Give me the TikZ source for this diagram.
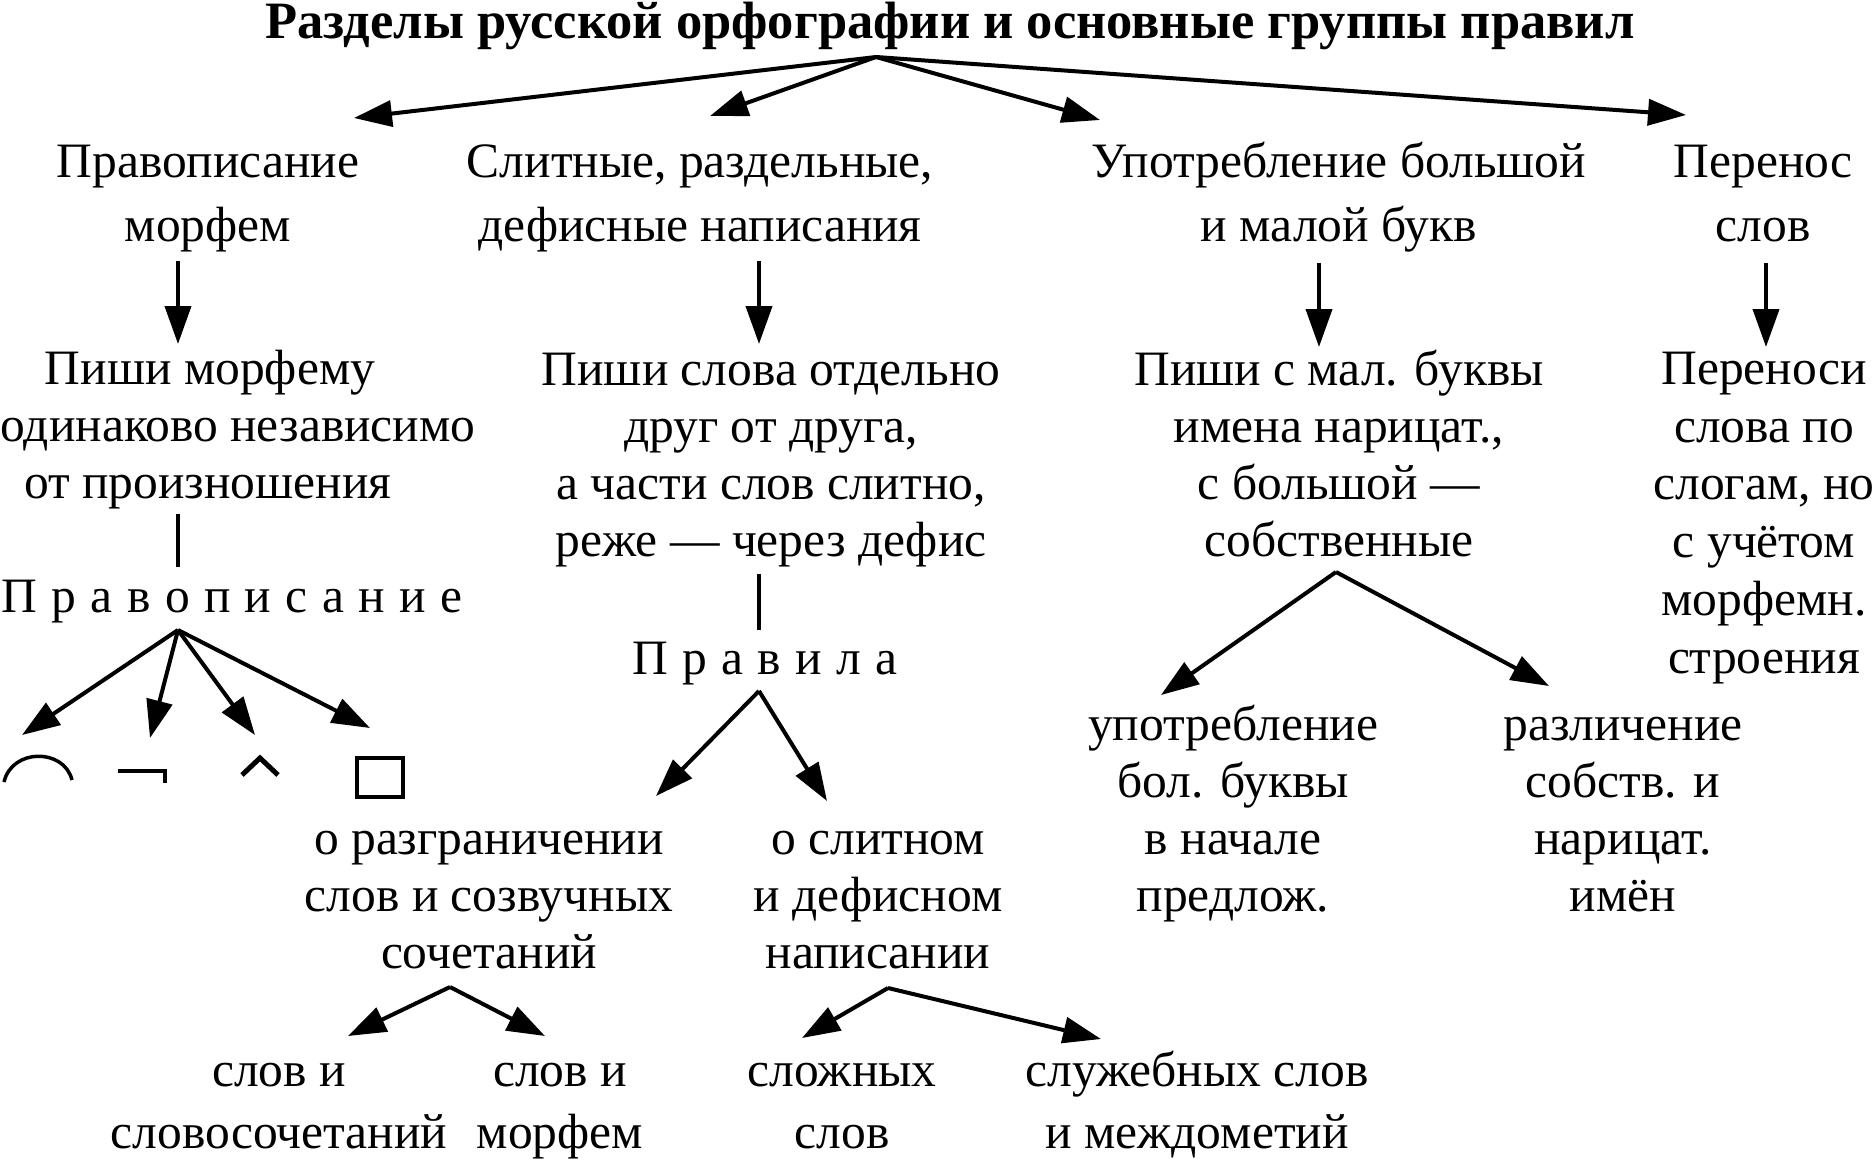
\documentclass[tikz,border=0pt]{standalone}
\usepackage{fontspec}
\setmainfont{Liberation Serif}
\usetikzlibrary{positioning,arrows.meta}
\tikzset{
    lbl/.style={inner sep=0pt, anchor=base, align=center, font=\fontsize{49.5}{57}\selectfont},
    lblw/.style={lbl, font=\fontsize{49.5}{64}\selectfont},
    hd/.style={inner sep=0pt, anchor=base, font=\fontsize{52.5}{60}\selectfont\bfseries},
    arr/.style={line width=4, -{Triangle[length=38,width=26]}},
    ln/.style={line width=3.5},
    sym/.style={line width=3.5}
}

\begin{document}
\begin{tikzpicture}[x=1pt,y=1pt]
    \useasboundingbox (0,0) rectangle (1875,-1159);

    \node[hd] (title) at (950,-38) {Разделы русской орфографии и основные группы правил};
    \coordinate (t0) at (876,-57);

    \node[lblw] (v1) at (208,-241.5) {Правописание\\морфем};
    \node[lblw] (v2) at (700,-241.5) {Слитные, раздельные,\\дефисные написания};
    \node[lblw] (v3) at (1339,-241.5) {Употребление большой\\и малой букв};
    \node[lblw] (v4) at (1763,-241.5) {Перенос\\слов};
    \coordinate (t1) at (354,-118);
    \coordinate (t2) at (710,-116);
    \coordinate (t3) at (1100,-120);
    \coordinate (t4) at (1686,-115);
    \draw[arr] (t0) -- (t1);
    \draw[arr] (t0) -- (t2);
    \draw[arr] (t0) -- (t3);
    \draw[arr] (t0) -- (t4);

    % first column
    \node[lbl] (r1) at (238,-498.5) {Пиши морфему\hspace*{56pt}\\одинаково независимо\\от произношения\hspace*{60pt}};
    \coordinate (a1) at (178,-261);
    \coordinate (b1) at (178,-344);
    \draw[arr] (a1) -- (b1);
    \coordinate (c1) at (178,-514);
    \coordinate (d1) at (178,-567);
    \draw[ln] (c1) -- (d1);
    \node[lbl] (p1) at (232,-612) {\spaceskip=.29em П р а в о п и с а н и е};
    \coordinate (p1m) at (178,-630);
    \coordinate (s1) at (22,-735);
    \coordinate (s2) at (150,-738);
    \coordinate (s3) at (255,-735);
    \coordinate (s4) at (370,-728);
    \draw[arr] (p1m) -- (s1);
    \draw[arr] (p1m) -- (s2);
    \draw[arr] (p1m) -- (s3);
    \draw[arr] (p1m) -- (s4);
    \draw[sym] (4,-782) .. controls (12,-748) and (64,-748) .. (72,-780);
    \draw[line width=4.5] (118,-771) -- (165,-771) -- (165,-783);
    \draw[line width=5] (242,-775) -- (260,-758) -- (278,-775);
    \draw[sym] (357,-758) rectangle (403,-797);

    % second column
    \node[lbl] (r2) at (771,-556.5) {Пиши слова отдельно\\друг от друга,\\а части слов слитно,\\реже — через дефис};
    \coordinate (a2) at (759,-261);
    \coordinate (b2) at (759,-344);
    \draw[arr] (a2) -- (b2);
    \coordinate (c2) at (759,-574);
    \coordinate (d2) at (759,-630);
    \draw[ln] (c2) -- (d2);
    \node[lbl] (p2) at (765,-674) {\spaceskip=.29em П р а в и л а};
    \coordinate (p2m) at (759,-691);
    \coordinate (q1) at (656,-796);
    \coordinate (q2) at (827,-801);
    \draw[arr] (p2m) -- (q1);
    \draw[arr] (p2m) -- (q2);

    \node[lbl] (k1) at (489,-968) {о разграничении\\слов и созвучных\\сочетаний};
    \node[lbl] (k2) at (878,-968) {о слитном\\и дефисном\\написании};
    \coordinate (k1m) at (450,-987);
    \coordinate (k2m) at (888,-988);
    \coordinate (u1) at (348,-1036);
    \coordinate (u2) at (545,-1036);
    \coordinate (u3) at (802,-1038);
    \coordinate (u4) at (1101,-1039);
    \draw[arr] (k1m) -- (u1);
    \draw[arr] (k1m) -- (u2);
    \draw[arr] (k2m) -- (u3);
    \draw[arr] (k2m) -- (u4);

    \node[lbl, font=\fontsize{49.5}{62}\selectfont] (w1) at (279,-1148.5) {слов и\\словосочетаний};
    \node[lbl, font=\fontsize{49.5}{62}\selectfont] (w2) at (560,-1148.5) {слов и\\морфем};
    \node[lbl, font=\fontsize{49.5}{62}\selectfont] (w3) at (842,-1148.5) {сложных\\слов};
    \node[lbl, font=\fontsize{49.5}{62}\selectfont] (w4) at (1197,-1148.5) {служебных слов\\и междометий};

    % third column
    \node[lbl] (r3) at (1339,-556.5) {Пиши с мал. буквы\\имена нарицат.,\\с большой —\\собственные};
    \coordinate (a3) at (1319,-263);
    \coordinate (b3) at (1319,-347);
    \draw[arr] (a3) -- (b3);
    \coordinate (r3m) at (1336,-572);
    \coordinate (e1) at (1161,-695);
    \coordinate (e2) at (1549,-686);
    \draw[arr] (r3m) -- (e1);
    \draw[arr] (r3m) -- (e2);
    \node[lbl] (g1) at (1233,-911.5) {употребление\\бол. буквы\\в начале\\предлож.};
    \node[lbl] (g2) at (1623,-911.5) {различение\\собств. и\\нарицат.\\имён};

    % last column
    \node[lbl, font=\fontsize{49.5}{57.7}\selectfont] (r4) at (1764,-673) {Переноси\\слова по\\слогам, но\\с учётом\\морфемн.\\строения};
    \coordinate (a4) at (1766,-263);
    \coordinate (b4) at (1766,-347);
    \draw[arr] (a4) -- (b4);
\end{tikzpicture}
\end{document}
